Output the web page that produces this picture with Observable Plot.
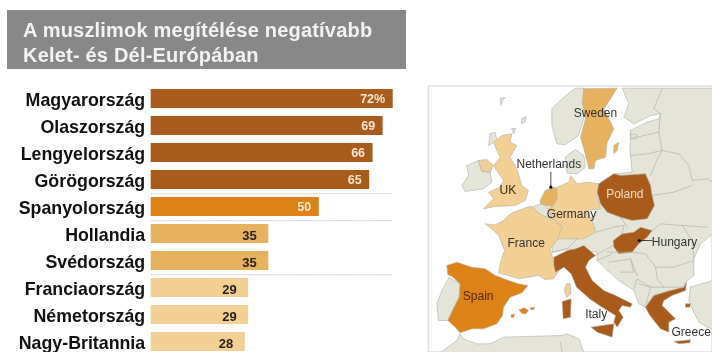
<!DOCTYPE html>
<html><head><meta charset="utf-8">
<script src="https://cdn.jsdelivr.net/npm/d3@7"></script>
<script src="https://cdn.jsdelivr.net/npm/@observablehq/plot@0.6"></script>
<style>
html,body{margin:0;padding:0;background:#fff;overflow:hidden}
#page{position:relative;width:712px;height:352px;overflow:hidden;font-family:"Liberation Sans",Arial,sans-serif}
#head{position:absolute;left:7px;top:10px;width:399px;height:59px;background:#888;color:#f2f2f2;font-weight:bold;font-size:20px;line-height:25px;letter-spacing:.2px;filter:blur(.4px)}
#head div{position:absolute;left:16px;white-space:nowrap}
#bars,#map{position:absolute;filter:blur(.5px)}
#bars{left:0;top:0}
#map{left:420px;top:75px}
svg{display:block}
</style></head><body>
<div id="page">
<div id="head"><div style="top:8px">A muszlimok megítélése negatívabb</div><div style="top:33px">Kelet- és Dél-Európában</div></div>
<div id="bars"></div><div id="map"></div>
</div>
<script>
// Survey values
const countries=["Magyarország","Olaszország","Lengyelország","Görögország","Spanyolország","Hollandia","Svédország","Franciaország","Németország","Nagy-Britannia"];
const values=[72,69,66,65,50,35,35,29,29,28];
const valueLabels=["72%","69","66","65","50","35","35","29","29","28"];
const groups=["high","high","high","high","spain","mid","mid","low","low","low"];
const separatorsAfter=["Görögország","Spanyolország","Svédország"];
const groupDomain=["high","spain","mid","low","land"];
const groupColors=["#a85b1b","#dc8217","#e7b25f","#f2cf95","#e5e4d9"];

// Map outlines (map grid units)
const norway=[490,38,464,38,424,70,394,100,394,150,409,205,434,208,474,180,490,130];
const east=[605,38,625,85,610,125,640,145,690,120,720,115,715,130,680,140,630,165,628,220,635,290,580,295,535,325,535,385,525,420,500,430,430,470,395,500,395,530,440,520,530,530,530,555,555,580,595,615,640,645,655,685,675,695,700,660,750,645,790,635,795,620,820,600,820,550,840,505,876,475,876,38];
const denmark=[434,245,464,222,490,240,495,275,470,295,440,293];
const ireland=[139,270,174,255,184,288,209,290,214,320,189,340,134,348,124,330,144,300];
const portugal=[86,605,119,625,116,665,96,705,82,735,54,735,49,685,64,645];
const belgium=[334,395,360,385,380,390,398,432,365,420];
const turkey=[810,635,876,615,876,760,860,755,835,740,820,710,805,675];
const africa=[60,831,109,795,119,775,129,790,169,805,209,805,249,785,424,780,440,775,475,790,490,831];
const faroe=[239,68,254,66,246,75,241,90];
const shetland=[304,130,317,123,314,140,302,145];
const orkney=[274,160,286,158,279,175];
const hebrides=[209,175,224,170,229,195,204,210];
const saaremaa=[630,175,650,178,645,190,632,188];
const sweden=[490,40,590,38,570,70,550,100,580,160,560,200,555,245,525,255,520,280,505,280,490,220,480,185,495,130,485,80];
const gotland=[580,210,595,200,590,225,580,235];
const britain=[244,180,274,175,269,200,289,210,269,245,289,280,304,330,324,345,314,375,284,390,224,393,189,400,219,370,204,350,239,335,249,315,229,285,219,270,239,245,229,225,219,200];
const ulster=[174,255,199,252,219,270,209,290,184,288];
const netherlands=[359,375,374,345,399,335,416,340,410,370,400,395,380,390,360,385];
const germany=[390,345,410,335,445,320,450,300,470,325,500,320,535,325,530,365,540,400,500,405,520,450,525,470,490,490,450,490,400,490,425,455,398,432,380,400,395,395,410,370,410,340];
const france=[194,445,224,448,249,435,264,420,275,412,315,397,330,392,365,420,400,432,425,455,409,495,389,520,399,555,419,580,399,610,374,612,354,600,324,605,294,610,264,600,234,592,240,560,252,525,235,480,219,465];
const corsica=[439,625,449,625,451,655,439,665,431,645];
const spain=[79,570,109,560,154,575,194,580,224,600,264,615,294,625,322,630,304,652,269,665,249,695,246,720,229,745,189,760,154,760,119,772,104,755,82,735,96,705,116,665,119,625,94,602,82,598];
const majorca=[296,703,312,697,324,705,314,716,302,712];
const menorca=[329,697,342,695,340,702,331,703];
const ibiza=[272,718,282,716,280,725,272,726];
const italy=[400,545,440,525,465,520,490,510,525,540,505,555,495,575,515,615,550,645,585,660,635,685,630,695,605,690,595,705,608,725,590,755,580,740,585,720,545,695,510,672,468,635,452,595,430,575,405,590,400,570];
const sardinia=[425,678,452,670,450,725,428,730];
const sicily=[512,755,580,745,575,785,530,770];
const poland=[535,325,580,295,600,300,675,295,690,330,695,360,702,390,680,430,635,435,600,425,560,410,540,385,530,350];
const hungary=[578,495,605,475,640,470,660,455,695,465,680,485,655,505,635,530,595,535,580,515];
const greece=[675,695,700,660,750,645,790,635,798,620,795,645,755,660,730,675,725,690,745,710,765,730,745,740,745,770,720,760,700,735,685,715];
const crete=[760,798,810,793,808,802,775,805];
const aegean=[795,685,810,685,808,695,795,695];

const borderLines=[
  [725,38,700,100,720,115],
  [720,115,715,170,725,225,775,235,805,270,815,315,860,310,876,320],
  [630,240,680,235,725,225],
  [630,190,670,180,715,170],
  [690,300,710,250,725,225],
  [695,360,760,350,815,330],
  [695,465,720,445,785,450,860,455],
  [785,450,815,495,820,550],
  [635,530,675,535,705,575],
  [705,575,760,575,820,555],
  [705,575,710,610,730,635],
  [730,635,790,635],
  [690,635,730,635],
  [655,625,690,635,675,695],
  [560,530,635,530],
  [565,560,630,550,640,590,600,590],
  [630,550,650,600],
  [640,640,650,610,690,635],
  [395,530,440,520,470,490],
  [525,470,580,455,610,450],
  [600,425,620,455],
  [610,450,605,475],
  [525,540,578,510],
  [530,555,575,535],
  [420,800,425,831]
];

const labelNames=["Sweden","Netherlands","UK","Poland","Germany","France","Hungary","Spain","Italy","Greece"];
const labelX=[525,385,262,613,453,317,762,173,527,812];
const labelY=[113,265,345,355,417,502,500,662,715,770];
const labelColor=["#333","#333","#3a2a12","#f3dcc0","#333","#333","#333","#5a2c08","#333","#333"];
const leaderNetherlands=[391,290,391,335];
const leaderHungary=[656,495,695,495];
const leaderDots=[391,335,656,495];

const color={domain:groupDomain,range:groupColors};
const table=countries.map((c,i)=>({c,v:values[i],l:valueLabels[i],g:groups[i]}));
const light=new Set(["mid","low"]);

document.getElementById("bars").append(Plot.plot({
  width:412,height:352,marginLeft:150.7,marginRight:19.3,marginTop:0,marginBottom:0,
  style:{background:"transparent",overflow:"hidden"},
  x:{domain:[0,72],range:[150.7,392.7],axis:null},
  y:{domain:countries,range:[87.5,353.5],paddingInner:.29,paddingOuter:0,axis:null},
  color,
  marks:[
    Plot.axisY({anchor:"left",label:null,tickSize:0,tickPadding:6,dy:1,fontSize:17.8,fontWeight:"bold",fill:"#111",fontFamily:"Liberation Sans"}),
    Plot.ruleY(table.filter(d=>separatorsAfter.includes(d.c)),{y:"c",dy:13.7,x1:0,x2:72,stroke:"#c4c4c4",strokeWidth:1,strokeDasharray:"1.5 1"}),
    Plot.barX(table,{x:"v",y:"c",fill:"g"}),
    Plot.text(table.filter(d=>!light.has(d.g)),{x:"v",y:"c",text:"l",dx:-8,textAnchor:"end",fill:"#f6e6d2",fontWeight:"bold",fontSize:12.5,fontFamily:"Liberation Sans"}),
    Plot.text(table.filter(d=>light.has(d.g)),{x:"v",y:"c",text:"l",dx:-12,dy:1.5,textAnchor:"end",fill:"#2a2118",fontWeight:"bold",fontSize:13,fontFamily:"Liberation Sans"})
  ]
}));

function rows(id,flat,g){const o=[];for(let i=0;i<flat.length;i+=2)o.push({id,g,x:flat[i],y:flat[i+1]});if(g)o.push({id,g,x:flat[0],y:flat[1]});return o}
const areas=[["norway",norway,"land"],["east",east,"land"],["denmark",denmark,"land"],["ireland",ireland,"land"],["portugal",portugal,"land"],["belgium",belgium,"land"],["turkey",turkey,"land"],["africa",africa,"land"],["faroe",faroe,"land"],["shetland",shetland,"land"],["orkney",orkney,"land"],["hebrides",hebrides,"land"],["saaremaa",saaremaa,"land"],
["sweden",sweden,"mid"],["gotland",gotland,"mid"],["britain",britain,"low"],["ulster",ulster,"low"],["netherlands",netherlands,"mid"],["germany",germany,"low"],["france",france,"low"],["corsica",corsica,"low"],
["spain",spain,"spain"],["majorca",majorca,"spain"],["menorca",menorca,"spain"],["ibiza",ibiza,"spain"],["italy",italy,"high"],["sardinia",sardinia,"high"],["sicily",sicily,"high"],["poland",poland,"high"],["hungary",hungary,"high"],["greece",greece,"high"],["crete",crete,"high"],["aegean",aegean,"high"]].flatMap(([n,f,g])=>rows(n,f,g));
const borders=borderLines.flatMap((f,i)=>rows("b"+i,f));
const leaders=[leaderNetherlands,leaderHungary].flatMap((f,i)=>rows("l"+i,f));
const dots=rows("d",leaderDots);
const labels=labelNames.map((t,i)=>({t,x:labelX[i],y:labelY[i],c:labelColor[i]}));

document.getElementById("map").append(Plot.plot({
  width:292,height:277,margin:0,
  style:{background:"transparent"},
  x:{domain:[0,876],range:[0,292],axis:null},
  y:{domain:[0,831],range:[0,277],axis:null},
  color,
  marks:[
    Plot.rect([{x1:25,x2:876,y1:33,y2:831}],{x1:"x1",x2:"x2",y1:"y1",y2:"y2",fill:"#fff",stroke:"#dedede",strokeWidth:1.5}),
    Plot.line(areas,{x:"x",y:"y",z:"id",fill:"g",stroke:"#b0b0a6",strokeWidth:.6}),
    Plot.line(borders,{x:"x",y:"y",z:"id",stroke:"#b3b3a9",strokeWidth:.7}),
    Plot.line(leaders,{x:"x",y:"y",z:"id",stroke:"#222",strokeWidth:.8}),
    Plot.dot(dots,{x:"x",y:"y",r:1.6,fill:"#111"}),
    Plot.text(labels,{x:"x",y:"y",text:"t",fontSize:12,fill:d=>d.c,fontFamily:"Liberation Sans"})
  ]
}));
</script>
</body></html>
